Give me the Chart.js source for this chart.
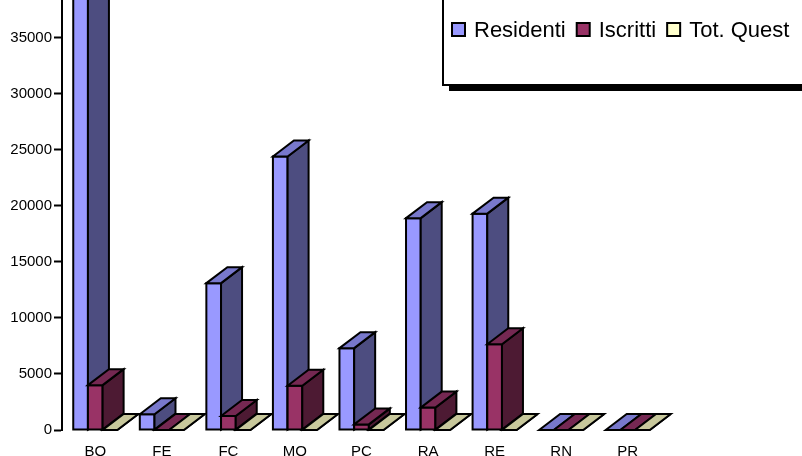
<!DOCTYPE html>
<html>
<head>
<meta charset="utf-8">
<script src="https://cdn.jsdelivr.net/npm/chart.js@4/dist/chart.umd.min.js"></script>
<style>
  html, body { margin: 0; padding: 0; background: #fff; overflow: hidden; }
  #wrap { position: relative; width: 802px; height: 456px; }
  canvas { display: block; }
</style>
</head>
<body>
<div id="wrap"><canvas id="chart" width="802" height="456"></canvas></div>
<script>
// Provinces
const categories = ['BO', 'FE', 'FC', 'MO', 'PC', 'RA', 'RE', 'RN', 'PR'];
// Series values
const residenti = [42000, 1400, 13100, 24400, 7300, 18900, 19300, 0, 0];
const iscritti  = [4000, 0, 1250, 3950, 500, 2000, 7650, 0, 0];
const totQuest  = [0, 0, 0, 0, 0, 0, 0, 0, 0];
const seriesNames = ['Residenti', 'Iscritti', 'Tot. Quest'];
// Value axis ticks
const yTicks = [0, 5000, 10000, 15000, 20000, 25000, 30000, 35000];
const yVisibleMax = 38360;

const FONT = '"Liberation Sans", Arial, Helvetica, sans-serif';

// front / side / top shades of each series
const shades = [
  { front: '#9999ff', side: '#4d4d80', top: '#7878cc' },
  { front: '#993366', side: '#4d1a33', top: '#752852' },
  { front: '#ffffcc', side: '#808066', top: '#c8c89c' }
];
const DEPTH_X = 21;
const DEPTH_Y = -16;

// extrudes every bar into a box: front, right side and top faces
const bars3d = {
  id: 'bars3d',
  afterDatasetsDraw(chart) {
    const ctx = chart.ctx;
    const metas = chart.data.datasets.map((d, i) => chart.getDatasetMeta(i));
    ctx.save();
    ctx.lineWidth = 2;
    ctx.strokeStyle = '#000';
    ctx.lineJoin = 'miter';
    const poly = (pts, fill) => {
      ctx.beginPath();
      ctx.moveTo(pts[0][0], pts[0][1]);
      for (let k = 1; k < pts.length; k++) ctx.lineTo(pts[k][0], pts[k][1]);
      ctx.closePath();
      ctx.fillStyle = fill;
      ctx.fill();
      ctx.stroke();
    };
    for (let i = 0; i < categories.length; i++) {
      metas.forEach((meta, d) => {
        const el = meta.data[i];
        if (!el) return;
        const p = el.getProps(['x', 'y', 'base', 'width'], true);
        const L = p.x - p.width / 2, R = p.x + p.width / 2;
        const T = Math.min(p.y, p.base), B = p.base;
        const s = shades[d];
        poly([[L, B], [L, T], [R, T], [R, B]], s.front);
        poly([[R, B], [R, T], [R + DEPTH_X, T + DEPTH_Y], [R + DEPTH_X, B + DEPTH_Y]], s.side);
        poly([[L, T], [L + DEPTH_X, T + DEPTH_Y], [R + DEPTH_X, T + DEPTH_Y], [R, T]], s.top);
      });
    }
    ctx.restore();
  }
};

// framed legend with a drop shadow
const legendBox = {
  id: 'legendBox',
  afterDraw(chart) {
    const ctx = chart.ctx;
    const bx = 443, by = -26, bw = 420, bh = 111;
    ctx.save();
    ctx.fillStyle = '#000';
    ctx.fillRect(bx + 6, by + 6, bw, bh);
    ctx.fillStyle = '#fff';
    ctx.fillRect(bx, by, bw, bh);
    ctx.lineWidth = 2;
    ctx.strokeStyle = '#000';
    ctx.strokeRect(bx, by, bw, bh);

    ctx.font = '22px ' + FONT;
    ctx.textBaseline = 'alphabetic';
    ctx.textAlign = 'left';
    let x = 452;
    chart.data.datasets.forEach((ds, d) => {
      ctx.fillStyle = shades[d].front;
      ctx.fillRect(x, 23, 13, 13);
      ctx.strokeRect(x, 23, 13, 13);
      ctx.fillStyle = '#000';
      const tx = x + 22;
      ctx.fillText(ds.label, tx, 37);
      x = tx + ctx.measureText(ds.label).width + 11;
    });
    ctx.restore();
  }
};

const chart = new Chart(document.getElementById('chart'), {
  type: 'bar',
  data: {
    labels: categories,
    datasets: [
      { label: seriesNames[0], data: residenti, backgroundColor: shades[0].front },
      { label: seriesNames[1], data: iscritti,  backgroundColor: shades[1].front },
      { label: seriesNames[2], data: totQuest,  backgroundColor: shades[2].front }
    ]
  },
  options: {
    responsive: false,
    animation: false,
    devicePixelRatio: 1,
    layout: { padding: { left: 0, top: 0, right: 141, bottom: 0 } },
    datasets: {
      bar: { categoryPercentage: 0.662, barPercentage: 1, borderWidth: 0 }
    },
    plugins: {
      legend: { display: false },
      tooltip: { enabled: false },
      title: { display: false }
    },
    scales: {
      x: {
        grid: { display: false, drawTicks: false },
        border: { display: false },
        ticks: { color: '#000', font: { family: FONT, size: 15 }, padding: 13, maxRotation: 0, autoSkip: false },
        afterFit(scale) { scale.height = 26; scale.paddingLeft = 0; scale.paddingRight = 0; }
      },
      y: {
        min: 0,
        max: yVisibleMax,
        grid: { display: true, drawOnChartArea: false, drawTicks: true, tickLength: 8, tickWidth: 2, tickColor: '#000' },
        border: { display: true, color: '#000', width: 2 },
        ticks: {
          autoSkip: false,
          color: '#000',
          padding: 2,
          font: { family: FONT, size: 15 },
          callback: (v) => String(v)
        },
        afterBuildTicks(scale) { scale.ticks = yTicks.map(v => ({ value: v })); },
        afterFit(scale) { scale.width = 62; scale.paddingTop = 0; scale.paddingBottom = 0; }
      }
    }
  },
  plugins: [bars3d, legendBox]
});
</script>
</body>
</html>
